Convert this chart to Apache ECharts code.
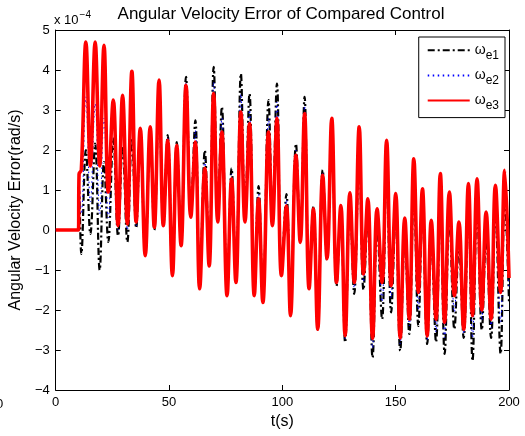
<!DOCTYPE html>
<html>
<head>
<meta charset="utf-8">
<script src="https://cdn.jsdelivr.net/npm/echarts@6/dist/echarts.min.js"></script>
<style>
html,body{margin:0;padding:0;background:#fff;}
#chart{width:525px;height:436px;}
</style>
</head>
<body>
<div id="chart"></div>
<script>
// time stamps (s)
var times = [0, 10, 10.3, 11.3, 13.3, 15.3, 17.4, 19.4, 21.3, 23.2, 25.4, 27.5, 29.5, 31.6, 33.6, 35.5, 37.3, 39.5, 41.7, 43.5, 45.6, 47.5, 49.4, 51.5, 53.4, 55.3, 57.5, 59.6, 61.6, 63.5, 65.8, 67.7, 69.7, 71.5, 73.3, 75.6, 77.6, 79.5, 81.7, 83.5, 85.5, 87.6, 89.5, 91.4, 93.9, 95.6, 97.6, 99.6, 101.8, 103.6, 106.0, 107.9, 109.8, 111.8, 113.7, 115.6, 117.8, 119.7, 121.8, 123.9, 125.8, 127.7, 129.8, 131.7, 133.9, 135.8, 137.7, 139.8, 141.8, 144.0, 146.0, 148.0, 150.0, 152.0, 154.0, 156.0, 158.0, 160.0, 161.8, 163.9, 165.7, 167.8, 169.7, 171.6, 173.7, 175.9, 177.9, 180.0, 182.1, 183.9, 185.9, 188.0, 189.9, 192.1, 194.0, 196.3, 198.1, 200];

// values in units of 1e-4 rad/s
var omegaE1 = [0, 0, 1.0, -0.6, 2.0, -0.1, 2.16, -1.0, 1.7, -0.3, 2.3, -0.15, 2.1, -0.3, 2.3, 0.05, 2.4, -0.6, 2.4, 0.0, 3.3, 0.1, 2.37, -1.1, 2.2, -0.4, 3.83, 0.5, 2.74, -1.45, 1.99, -0.85, 4.08, 0.35, 3.08, -1.6, 1.54, -1.3, 3.91, 0.35, 3.41, -1.6, 1.1, -1.8, 3.25, 0.3, 3.66, -1.1, 0.9, -2.14, 2.16, -0.3, 3.33, -1.47, 0.6, -2.5, 1.5, -0.75, 2.7, -1.4, 0.5, -2.81, 0.7, -1.6, 1.9, -1.5, 0.3, -3.19, 0.1, -2.23, 1.5, -2.06, 0.4, -3.02, -0.2, -2.6, 1.0, -2.4, 0.5, -2.85, -0.3, -2.8, 0.7, -3.1, 0.3, -2.48, -0.4, -2.7, 0.5, -3.27, 0.6, -2.5, -0.2, -2.7, 0.5, -3.1, 0.8, -1.8];

var omegaE2 = [0, 0, 1.2, 0.4, 3.33, 0.7, 3.16, 0.4, 2.8, 0.3, 2.7, 0.0, 2.6, 0.0, 3.0, 0.1, 2.5, -0.6, 2.5, 0.05, 3.5, 0.1, 2.3, -1.1, 2.15, -0.4, 3.7, 0.4, 2.5, -1.45, 1.75, -0.88, 3.7, 0.25, 2.8, -1.6, 1.4, -1.3, 3.4, 0.25, 3.0, -1.62, 0.9, -1.8, 2.8, 0.2, 3.2, -1.12, 0.75, -2.14, 2.0, -0.3, 3.1, -1.47, 0.55, -2.5, 1.45, -0.73, 2.75, -1.35, 0.55, -2.72, 0.8, -1.45, 2.2, -1.3, 0.5, -2.95, 0.3, -1.8, 1.85, -1.7, 0.65, -2.85, 0.05, -2.4, 1.4, -2.0, 0.75, -2.75, 0.0, -2.55, 1.05, -2.7, 0.6, -2.05, -0.1, -2.6, 0.8, -2.7, 0.9, -2.25, 0.1, -2.45, 0.8, -2.3, 1.1, -1.5];

var omegaE3 = [0, 0, 1.4, 1.5, 4.7, 1.6, 4.7, 1.6, 4.62, 0.95, 3.25, 0.11, 3.37, 0.15, 3.97, 0.2, 2.54, -0.64, 2.58, 0.07, 3.75, 0.11, 2.24, -1.14, 2.12, -0.39, 3.62, 0.32, 2.2, -1.47, 1.54, -0.9, 3.41, 0.2, 2.45, -1.64, 1.28, -1.31, 2.95, 0.2, 2.66, -1.64, 0.78, -1.81, 2.45, 0.11, 2.79, -1.14, 0.6, -2.14, 1.87, -0.31, 2.91, -1.47, 0.53, -2.48, 1.37, -0.72, 2.79, -1.31, 0.61, -2.64, 0.93, -1.31, 2.58, -1.1, 0.78, -2.71, 0.53, -1.31, 2.24, -1.39, 0.91, -2.7, 0.3, -2.23, 1.78, -1.56, 1.03, -2.65, 0.24, -2.23, 1.41, -2.31, 0.95, -1.64, 0.2, -2.48, 1.16, -2.14, 1.28, -2.0, 0.45, -2.23, 1.12, -1.56, 1.49, -1.2];

var xTicks = [0, 50, 100, 150, 200];
var yTicks = [-4, -3, -2, -1, 0, 1, 2, 3, 4, 5];
var seriesNames = ['ωe1', 'ωe2', 'ωe3'];

function pairs(vals) {
  return times.map(function (t, i) { return [t, vals[i]]; });
}

var FONT = '"Liberation Sans", Arial, Helvetica, sans-serif';
var chart = echarts.init(document.getElementById('chart'), null, {renderer: 'canvas'});

var axisCommon = {
  axisLine: {show: true, onZero: false, lineStyle: {color: '#000', width: 1}},
  axisTick: {show: true, inside: true, length: 5, lineStyle: {color: '#000', width: 1}},
  splitLine: {show: false}
};

var option = {
  backgroundColor: '#fff',
  animation: false,
  grid: {left: 53, right: 16, top: 30, bottom: 46, containLabel: false},
  xAxis: [
    Object.assign({
      type: 'value', min: xTicks[0], max: xTicks[xTicks.length - 1], interval: 50, position: 'bottom',
      name: 't(s)', nameLocation: 'middle', nameGap: 23,
      nameTextStyle: {fontFamily: FONT, fontSize: 16, color: '#000'},
      axisLabel: {fontFamily: FONT, fontSize: 13, color: '#000', margin: 6}
    }, axisCommon),
    Object.assign({
      type: 'value', min: xTicks[0], max: xTicks[xTicks.length - 1], interval: 50, position: 'top',
      axisLabel: {show: false}
    }, axisCommon)
  ],
  yAxis: [
    Object.assign({
      type: 'value', min: yTicks[0], max: yTicks[yTicks.length - 1], interval: 1, position: 'left',
      name: 'Angular Velocity Error(rad/s)', nameLocation: 'middle', nameGap: 28,
      nameTextStyle: {fontFamily: FONT, fontSize: 16, color: '#000'},
      axisLabel: {fontFamily: FONT, fontSize: 13, color: '#000', margin: 6,
        formatter: function (v) { return v < 0 ? '\u2212' + (-v) : String(v); }}
    }, axisCommon),
    Object.assign({
      type: 'value', min: yTicks[0], max: yTicks[yTicks.length - 1], interval: 1, position: 'right',
      axisLabel: {show: false}
    }, axisCommon)
  ],
  legend: {
    orient: 'vertical', right: 20, top: 37,
    backgroundColor: '#fff', borderColor: '#000', borderWidth: 1, borderRadius: 0,
    padding: [6, 6, 6, 8], itemWidth: 42, itemHeight: 18, itemGap: 7,
    itemStyle: {opacity: 0},
    data: seriesNames,
    formatter: function (name) { return '{w|ω}{s|' + name.slice(1) + '}'; },
    textStyle: {
      fontFamily: FONT, color: '#000',
      rich: {
        w: {fontFamily: FONT, fontSize: 14, color: '#000'},
        s: {fontFamily: FONT, fontSize: 12, color: '#000', padding: [10, 0, 0, 0]}
      }
    }
  },
  series: [
    {name: seriesNames[0], type: 'line', data: pairs(omegaE1), smooth: 0.4, symbol: 'none', z: 2,
      lineStyle: {color: '#000', width: 2.2, type: [7, 3, 2, 3]}, itemStyle: {color: '#000'}},
    {name: seriesNames[1], type: 'line', data: pairs(omegaE2), smooth: 0.4, symbol: 'none', z: 3,
      lineStyle: {color: '#0000ff', width: 1, type: [1.5, 3.5]}, itemStyle: {color: '#0000ff'}},
    {name: seriesNames[2], type: 'line', data: pairs(omegaE3), smooth: 0.4, symbol: 'none', z: 4,
      lineStyle: {color: '#ff0000', width: 3.6, type: 'solid'}, itemStyle: {color: '#ff0000'}}
  ],
  graphic: [
    {type: 'text', style: {text: 'Angular Velocity Error of Compared Control', x: 281, y: 14,
      align: 'center', verticalAlign: 'middle', font: '17px ' + FONT, fill: '#000'}},
    {type: 'text', style: {text: '{a|x 10}{b|\u22124}', x: 54, y: 20, verticalAlign: 'middle',
      rich: {a: {fontFamily: FONT, fontSize: 13, fill: '#000', color: '#000'},
             b: {fontFamily: FONT, fontSize: 10, fill: '#000', color: '#000', padding: [0, 0, 9, 1]}}}},
    {type: 'text', style: {text: '0', x: -4, y: 404, verticalAlign: 'middle', font: '13px ' + FONT, fill: '#000'}}
  ]
};
chart.setOption(option);
</script>
</body>
</html>
